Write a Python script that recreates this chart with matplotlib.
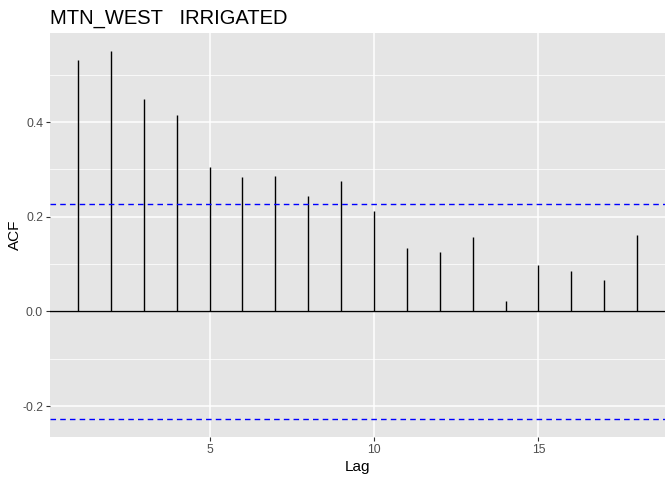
import numpy as np
import matplotlib
matplotlib.use("Agg")
import matplotlib.pyplot as plt

plt.rcParams['font.family'] = ['Liberation Sans', 'DejaVu Sans']

# ACF values
lags = list(range(1, 19))
acf = [0.530, 0.549, 0.448, 0.415, 0.306, 0.283, 0.285, 0.243, 0.276,
       0.212, 0.134, 0.126, 0.157, 0.023, 0.098, 0.086, 0.067, 0.161]
ci = 0.226

fig = plt.figure(figsize=(6.72, 4.8), dpi=100)
ax = fig.add_axes([0.0744, 0.0896, 0.9152, 0.8417])
ax.set_facecolor("#E5E5E5")
for s in ax.spines.values():
    s.set_visible(False)

ax.set_xlim(0.15, 18.85)
ax.set_ylim(-0.265, 0.588)
ax.set_xticks([5, 10, 15])
ax.set_yticks([-0.2, 0.0, 0.2, 0.4])
ax.set_yticklabels(["-0.2", "0.0", "0.2", "0.4"])
ax.set_yticks([-0.1, 0.1, 0.3, 0.5], minor=True)
ax.grid(which="major", color="white", lw=1.1)
ax.grid(which="minor", axis="y", color="white", lw=0.55)
ax.set_axisbelow(True)
ax.tick_params(which="major", length=3, color="#333333", labelsize=8.8, labelcolor="#4D4D4D", pad=2)
ax.tick_params(which="minor", length=0)

ax.axhline(0, color="black", lw=1)
ax.vlines(lags, 0, acf, color="black", lw=1)
ax.axhline(ci, color="blue", ls=(0, (4, 3)), lw=1)
ax.axhline(-ci, color="blue", ls=(0, (4, 3)), lw=1)

ax.set_xlabel("Lag", fontsize=11, labelpad=3)
ax.set_ylabel("ACF", fontsize=11)
ax.yaxis.set_label_coords(-0.045, 0.5)
ax.set_title("MTN_WEST   IRRIGATED", loc="left", fontsize=14.5, pad=7)

plt.savefig("out.png", dpi=100)
